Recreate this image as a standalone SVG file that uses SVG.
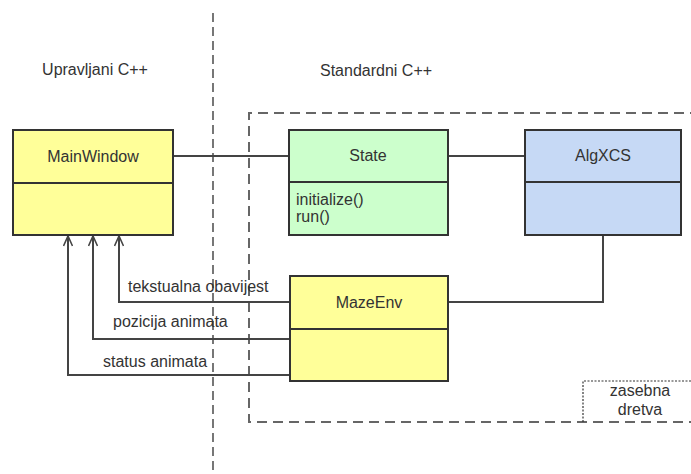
<svg xmlns="http://www.w3.org/2000/svg" width="691" height="474" viewBox="0 0 691 474">
  <style>
    text { font-family: "Liberation Sans", Arial, sans-serif; font-size: 16px; fill: #333; }
    .mid { text-anchor: middle; }
    .box { stroke: #333; stroke-width: 2; }
    .sep { stroke: #333; stroke-width: 2; }
    .line { stroke: #444; stroke-width: 2; fill: none; }
    .yellow { fill: #ffff99; }
    .green { fill: #ccffcc; }
    .blue { fill: #c6d9f5; }
  </style>
  <defs>
    <marker id="open" markerWidth="12" markerHeight="10" refX="11" refY="5" orient="auto" markerUnits="userSpaceOnUse">
      <path d="M1,0.5 L11,5 L1,9.5" fill="none" stroke="#444" stroke-width="1.6"/>
    </marker>
  </defs>
  <rect width="691" height="474" fill="#fff"/>

  <!-- section boundaries -->
  <g id="boundaries">
    <line x1="213" y1="13" x2="213" y2="470" stroke="#555" stroke-width="1.6" stroke-dasharray="9,5"/>
    <path d="M700,113 H249 V422 H700" fill="none" stroke="#666" stroke-width="2" stroke-dasharray="10,6"/>
    <text x="95" y="75" class="mid">Upravljani C++</text>
    <text x="320" y="76">Standardni C++</text>
  </g>

  <!-- connectors -->
  <g id="connectors">
    <line class="line" x1="173" y1="156" x2="289" y2="156"/>
    <line class="line" x1="448" y1="156" x2="525" y2="156"/>
    <polyline class="line" points="603,235 603,302 448,302"/>
    <polyline class="line" points="290,302 119,302 119,236" marker-end="url(#open)"/>
    <polyline class="line" points="290,339 93,339 93,236" marker-end="url(#open)"/>
    <polyline class="line" points="290,375 68,375 68,236" marker-end="url(#open)"/>
    <text x="128" y="292">tekstualna obavijest</text>
    <text x="113" y="327">pozicija animata</text>
    <text x="103" y="367">status animata</text>
  </g>

  <g id="MainWindow">
    <rect class="box yellow" x="13" y="130" width="160" height="105"/>
    <line class="sep" x1="13" y1="183" x2="173" y2="183"/>
    <text x="93" y="162" class="mid">MainWindow</text>
  </g>

  <g id="State">
    <rect class="box green" x="289" y="130" width="159" height="105"/>
    <line class="sep" x1="289" y1="182" x2="448" y2="182"/>
    <text x="368" y="161" class="mid">State</text>
    <text x="296" y="205">initialize()</text>
    <text x="296" y="222">run()</text>
  </g>

  <g id="AlgXCS">
    <rect class="box blue" x="525" y="130" width="156" height="105"/>
    <line class="sep" x1="525" y1="182" x2="681" y2="182"/>
    <text x="603" y="161" class="mid">AlgXCS</text>
  </g>

  <g id="MazeEnv">
    <rect class="box yellow" x="290" y="276" width="158" height="105"/>
    <line class="sep" x1="290" y1="329" x2="448" y2="329"/>
    <text x="369" y="308" class="mid">MazeEnv</text>
  </g>

  <g id="zasebna-dretva">
    <path d="M583,422 V381 H700" fill="none" stroke="#333" stroke-width="1.2" stroke-dasharray="2,1.5"/>
    <text x="640" y="396" class="mid">zasebna</text>
    <text x="640" y="415" class="mid">dretva</text>
  </g>
</svg>
